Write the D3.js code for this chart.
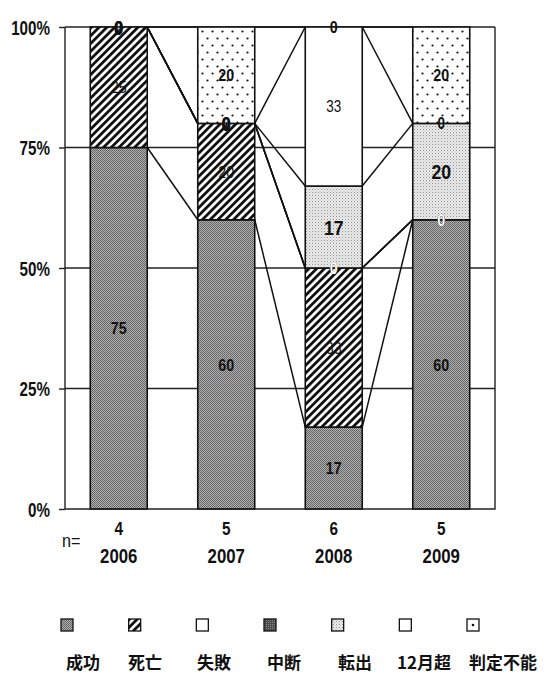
<!DOCTYPE html>
<html>
<head>
<meta charset="utf-8">
<script src="https://cdn.jsdelivr.net/npm/d3@7"></script>
<style>
  html, body { margin: 0; padding: 0; background: #fff; }
  svg { display: block; }
  .num { font-family: "Liberation Sans", Arial, sans-serif; }
  .jp { font-family: "Noto Sans CJK JP", "Noto Sans", sans-serif; }
</style>
</head>
<body>
<svg id="chart" width="550" height="681"></svg>
<script>
// Outcome categories per year (percent of cases), stacked bottom to top
const years = ["2006", "2007", "2008", "2009"];
const nCounts = ["4", "5", "6", "5"];
const seriesNames = ["成功", "死亡", "失敗", "中断", "転出", "12月超", "判定不能"];

const success      = [75, 60, 17, 60];
const death        = [25, 20, 33, 0];
const failure      = [0, 0, 0, 0];
const interrupted  = [0, 0, 0, 0];
const transfer     = [0, 0, 17, 20];
const over12       = [0, 0, 33, 0];
const undetermined = [0, 20, 0, 20];

const yTicks = [0, 25, 50, 75, 100];

const seriesValues = [success, death, failure, interrupted, transfer, over12, undetermined];
const keys = seriesNames;
const table = years.map((yr, i) => {
  const row = { year: yr };
  keys.forEach((k, s) => { row[k] = seriesValues[s][i]; });
  return row;
});

const svg = d3.select("#chart");
const defs = svg.append("defs");

// condensed numerals: squeeze text horizontally about its anchor point
function condensed(sel, px, py, sx) {
  sel.attr("x", 0).attr("y", 0)
     .attr("transform", (d, i, n) => {
       const X = typeof px === "function" ? px(d, i, n) : px;
       const Y = typeof py === "function" ? py(d, i, n) : py;
       return `translate(${X},${Y}) scale(${sx},1)`;
     });
  return sel;
}

// --- fill patterns ---
// 成功: medium gray grain
const pSucc = defs.append("pattern").attr("id", "p0").attr("patternUnits", "userSpaceOnUse")
  .attr("width", 2).attr("height", 2);
pSucc.append("rect").attr("width", 2).attr("height", 2).attr("fill", "#b2b2b2");
pSucc.append("rect").attr("width", 1).attr("height", 1).attr("fill", "#5e5e5e");
pSucc.append("rect").attr("x", 1).attr("y", 1).attr("width", 1).attr("height", 1).attr("fill", "#6a6a6a");

// 死亡: diagonal hatch
const pDeath = defs.append("pattern").attr("id", "p1").attr("patternUnits", "userSpaceOnUse")
  .attr("width", 5.5).attr("height", 5.5).attr("patternTransform", "rotate(45)");
pDeath.append("rect").attr("width", 5.5).attr("height", 5.5).attr("fill", "#fff");
pDeath.append("rect").attr("width", 2.8).attr("height", 5.5).attr("fill", "#111");

// 中断: dark gray grain
const pInt = defs.append("pattern").attr("id", "p3").attr("patternUnits", "userSpaceOnUse")
  .attr("width", 2).attr("height", 2);
pInt.append("rect").attr("width", 2).attr("height", 2).attr("fill", "#4a4a4a");
pInt.append("rect").attr("width", 1).attr("height", 1).attr("fill", "#8a8a8a");

// 転出: light fine stipple
const pTr = defs.append("pattern").attr("id", "p4").attr("patternUnits", "userSpaceOnUse")
  .attr("width", 3).attr("height", 3);
pTr.append("rect").attr("width", 3).attr("height", 3).attr("fill", "#ececec");
pTr.append("rect").attr("width", 1).attr("height", 1).attr("fill", "#8c8c8c");
pTr.append("rect").attr("x", 1.5).attr("y", 1.5).attr("width", 1).attr("height", 1).attr("fill", "#b0b0b0");

// 判定不能: sparse staggered dots
const pUnd = defs.append("pattern").attr("id", "p6").attr("patternUnits", "userSpaceOnUse")
  .attr("width", 10).attr("height", 14);
pUnd.append("rect").attr("width", 10).attr("height", 14).attr("fill", "#fff");
pUnd.append("circle").attr("cx", 2.5).attr("cy", 3.5).attr("r", 1.1).attr("fill", "#111");
pUnd.append("circle").attr("cx", 7.5).attr("cy", 10.5).attr("r", 1.1).attr("fill", "#111");

const fills = ["url(#p0)", "url(#p1)", "#fff", "url(#p3)", "url(#p4)", "#fff", "url(#p6)"];
const labelColor = ["#111", "#111", "#111", "#fff", "#111", "#111", "#111"];
const labelSize = [17, 17, 17, 17, 21, 16, 17];
const labelWeight = ["bold", "normal", "bold", "bold", "bold", "normal", "bold"];

// --- scales ---
const plot = { left: 65, right: 495, top: 27, bottom: 509 };
const x = d3.scaleBand().domain(years).range([plot.left, plot.right])
  .paddingInner(0.47).paddingOuter(0.235);
const y = d3.scaleLinear().domain([0, 100]).range([plot.bottom, plot.top]);

const stacked = d3.stack().keys(keys)(table);

// gridlines
svg.append("g").selectAll("line").data(yTicks.filter(t => t > 0)).join("line")
  .attr("x1", plot.left).attr("x2", plot.right)
  .attr("y1", d => y(d)).attr("y2", d => y(d))
  .attr("stroke", "#222").attr("stroke-width", 1.3);

// series lines joining segment tops between neighbouring columns
const bw = x.bandwidth();
const linesG = svg.append("g");
stacked.forEach(layer => {
  for (let i = 0; i < years.length - 1; i++) {
    linesG.append("line")
      .attr("x1", x(years[i]) + bw).attr("y1", y(layer[i][1]))
      .attr("x2", x(years[i + 1])).attr("y2", y(layer[i + 1][1]))
      .attr("stroke", "#111").attr("stroke-width", 1.5);
  }
});

// stacked bars
const barsG = svg.append("g");
stacked.forEach((layer, s) => {
  barsG.selectAll(null).data(layer.filter(d => d[1] - d[0] > 0)).join("rect")
    .attr("x", d => x(d.data.year))
    .attr("width", bw)
    .attr("y", d => y(d[1]))
    .attr("height", d => y(d[0]) - y(d[1]))
    .attr("fill", fills[s])
    .attr("stroke", "#111").attr("stroke-width", 1.6);
});

// plot frame (left, right, bottom)
svg.append("path")
  .attr("d", `M${plot.left},${plot.top}V${plot.bottom}H${plot.right}V${plot.top}`)
  .attr("fill", "none").attr("stroke", "#222").attr("stroke-width", 1.4);

// y axis
const yAxis = d3.axisLeft(y).tickValues(yTicks).tickFormat(d => d + "%").tickSize(6).tickPadding(8);
const yG = svg.append("g").attr("transform", `translate(${plot.left},0)`).call(yAxis);
yG.select(".domain").remove();
yG.selectAll(".tick line").attr("stroke", "#222").attr("stroke-width", 1.4);
yG.selectAll(".tick text")
  .attr("class", "num").attr("font-size", 20).attr("font-weight", "bold").attr("fill", "#111")
  .attr("dy", "0.36em").attr("text-anchor", "end")
  .call(condensed, -15, 0, 0.76);

// x axis: sample size over year
const xG = svg.append("g").attr("transform", `translate(0,${plot.bottom})`)
  .call(d3.axisBottom(x).tickSize(0).tickPadding(0).tickFormat(""));
xG.select(".domain").remove();
xG.selectAll(".tick").each(function(d, i) {
  const t = d3.select(this);
  t.append("text").attr("class", "num").attr("text-anchor", "middle")
    .attr("font-size", 18).attr("font-weight", "bold").attr("fill", "#111").text(nCounts[i])
    .call(condensed, 0, 26, 0.85);
  t.append("text").attr("class", "num").attr("text-anchor", "middle")
    .attr("font-size", 20).attr("font-weight", "bold").attr("fill", "#111").text(d)
    .call(condensed, 0, 54, 0.84);
});
svg.append("text").attr("class", "num")
  .attr("font-size", 19).attr("fill", "#111").text("n=")
  .call(condensed, 62, 547, 0.85);

// value labels (zero-height segments keep their label on the boundary)
const labelsG = svg.append("g");
stacked.forEach((layer, s) => {
  labelsG.selectAll(null).data(layer).join("text")
    .attr("class", "num")
    .attr("dy", "0.36em")
    .attr("text-anchor", "middle")
    .attr("font-size", labelSize[s])
    .attr("font-weight", d => (d[1] - d[0] === 0 ? "bold" : labelWeight[s]))
    .attr("fill", labelColor[s])
    .text(d => d3.format(".0f")(d[1] - d[0]))
    .call(condensed, d => x(d.data.year) + bw / 2, d => y((d[0] + d[1]) / 2), 0.84);
});

// legend
const legX = d3.scalePoint().domain(seriesNames).range([67, 473]);
const legG = svg.append("g");
seriesNames.forEach((name, s) => {
  const cx = legX(name);
  legG.append("rect").attr("x", cx - 6).attr("y", 619).attr("width", 12).attr("height", 12)
    .attr("fill", s === 6 ? "#fff" : fills[s]).attr("stroke", "#111").attr("stroke-width", 1.3);
  if (s === 6) legG.append("circle").attr("cx", cx).attr("cy", 625).attr("r", 1.3).attr("fill", "#111");
});
const legLabelX = [83, 145, 214, 284, 355, 424, 503];
seriesNames.forEach((name, s) => {
  legG.append("text").attr("class", "jp").attr("x", legLabelX[s]).attr("y", 669)
    .attr("text-anchor", "middle").attr("font-size", 17).attr("font-weight", "bold")
    .attr("fill", "#111").text(name);
});
</script>
</body>
</html>
